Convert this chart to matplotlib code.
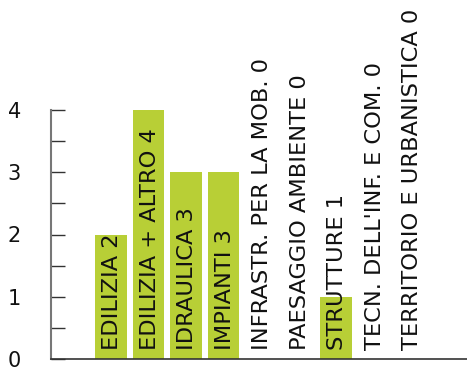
import matplotlib
matplotlib.use("Agg")
import matplotlib.pyplot as plt
from matplotlib.ticker import MultipleLocator

# categorie e numero di progetti per settore
categorie = [
    "EDILIZIA",
    "EDILIZIA + ALTRO",
    "IDRAULICA",
    "IMPIANTI",
    "INFRASTR. PER LA MOB.",
    "PAESAGGIO AMBIENTE",
    "STRUTTURE",
    "TECN. DELL'INF. E COM.",
    "TERRITORIO E URBANISTICA",
]
valori = [2, 4, 3, 3, 0, 0, 1, 0, 0]

verde = "#b8cf36"

plt.rcParams["font.family"] = ["DejaVu Sans"]

fig = plt.figure(figsize=(4.67, 3.73), dpi=100)
ax = fig.add_axes([51 / 467, 14 / 373, 416 / 467, 249 / 373])

x = list(range(len(categorie)))
ax.bar(x, valori, width=0.84, color=verde, zorder=2)

# etichette verticali: nome + valore, dal fondo della barra
for xi, nome, v in zip(x, categorie, valori):
    ax.annotate(f"{nome} {v}", xy=(xi, 0), xytext=(1, 9), textcoords="offset pixels",
                rotation=90, ha="center", va="bottom", fontsize=16.2,
                color="#111111", clip_on=False, zorder=3,
                annotation_clip=False)

ax.set_xlim(-1.6, 9.49)
ax.set_ylim(0, 4)
ax.yaxis.set_major_locator(MultipleLocator(1))
ax.yaxis.set_minor_locator(MultipleLocator(0.5))
ax.tick_params(axis="y", which="both", direction="in", length=10, width=1,
               color="#333333", pad=21.6)
ax.tick_params(axis="y", which="major", labelsize=15, labelcolor="#111111")
ax.set_xticks([])

for s in ["top", "right"]:
    ax.spines[s].set_visible(False)
ax.spines["left"].set_color("#777777")
ax.spines["left"].set_linewidth(1.5)
ax.spines["bottom"].set_color("#333333")
ax.spines["bottom"].set_linewidth(1.2)

fig.savefig("out.png", dpi=100)
